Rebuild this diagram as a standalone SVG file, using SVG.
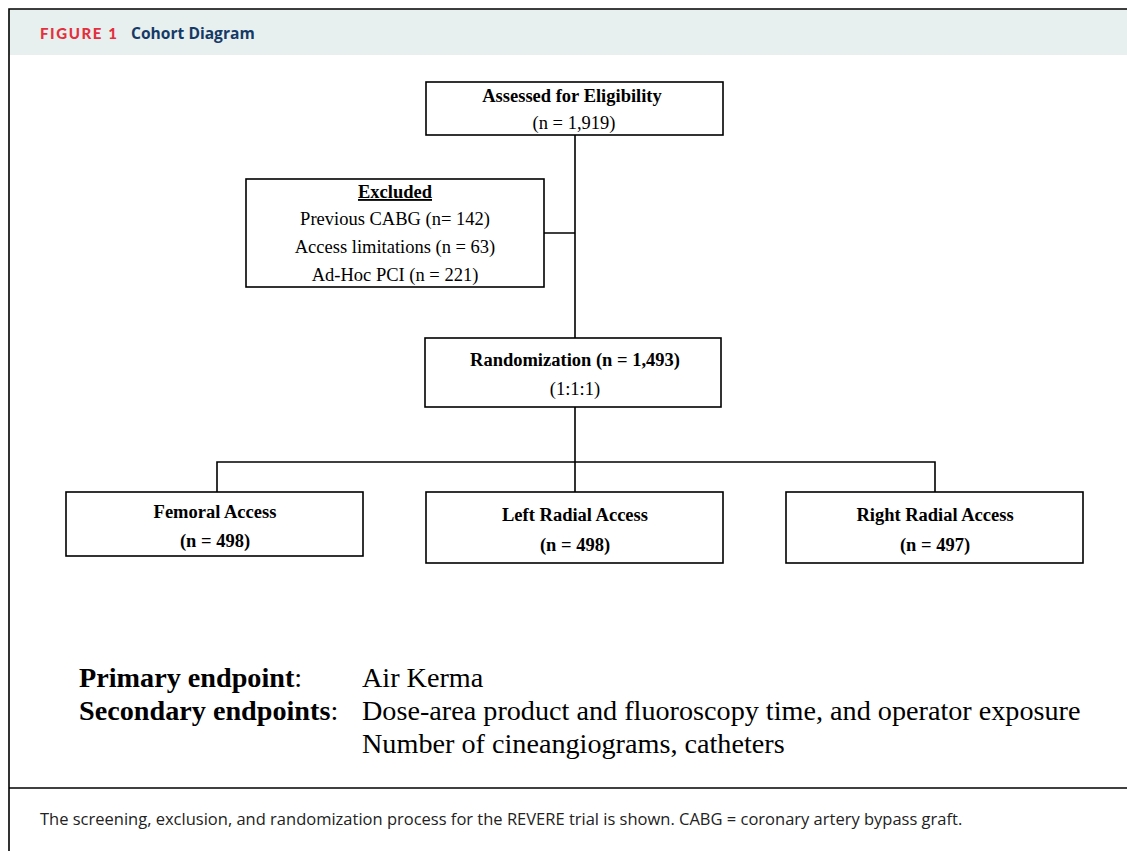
<svg xmlns="http://www.w3.org/2000/svg" width="1127" height="851" viewBox="0 0 1127 851">
<style>
.box{fill:#fff;stroke:#000;stroke-width:1.6}
.ln{stroke:#000;stroke-width:1.6;fill:none}
.t{font-family:"Liberation Serif","Times New Roman",serif;font-size:18.5px;fill:#000;text-anchor:middle}
.b{font-weight:bold}
.big{font-family:"Liberation Serif","Times New Roman",serif;font-size:28.2px;fill:#000}
</style>
<rect x="0" y="0" width="1127" height="851" fill="#fff"/>
<rect x="9" y="9" width="1118" height="46" fill="#e8f0ef"/>
<path d="M9 851V9H1127" class="ln" stroke-width="2"/>
<line x1="9" y1="788" x2="1127" y2="788" class="ln" stroke-width="2"/>
<text x="40" y="39" font-family="Lato,'Open Sans',sans-serif" font-weight="900" font-size="15" fill="#e3303e" letter-spacing="1.6">FIGURE 1</text>
<text x="131" y="39" font-family="'Open Sans',Lato,sans-serif" font-weight="bold" font-size="15.6" fill="#163a66">Cohort Diagram</text>
<g id="connectors">
<path class="ln" d="M575 135V338M544 233H575M575 407V492M217 492V462H935V492"/>
</g>
<g id="assessed">
<rect class="box" x="426" y="82" width="297" height="53"/>
<text class="t b" x="572" y="102" font-size="18">Assessed for Eligibility</text>
<text class="t" x="574" y="129" font-size="18">(n = 1,919)</text>
</g>
<g id="excluded">
<rect class="box" x="246" y="179" width="298" height="108"/>
<text class="t b" x="395" y="198" text-decoration="underline">Excluded</text>
<text class="t" x="395" y="225">Previous CABG (n= 142)</text>
<text class="t" x="395" y="253">Access limitations (n = 63)</text>
<text class="t" x="395" y="281">Ad-Hoc PCI (n = 221)</text>
</g>
<g id="randomization">
<rect class="box" x="425" y="338" width="296" height="69"/>
<text class="t b" x="575" y="366">Randomization (n = 1,493)</text>
<text class="t" x="575" y="395">(1:1:1)</text>
</g>
<g id="femoral">
<rect class="box" x="66" y="492" width="297" height="64"/>
<text class="t b" x="215" y="518">Femoral Access</text>
<text class="t b" x="215" y="547">(n = 498)</text>
</g>
<g id="left">
<rect class="box" x="426" y="492" width="297" height="71"/>
<text class="t b" x="575" y="521">Left Radial Access</text>
<text class="t b" x="575" y="551">(n = 498)</text>
</g>
<g id="right">
<rect class="box" x="786" y="492" width="297" height="71"/>
<text class="t b" x="935" y="521">Right Radial Access</text>
<text class="t b" x="935" y="551">(n = 497)</text>
</g>
<g id="endpoints">
<text class="big" x="79" y="687"><tspan font-weight="bold">Primary endpoint</tspan>:</text>
<text class="big" x="362" y="687">Air Kerma</text>
<text class="big" x="79" y="720"><tspan font-weight="bold">Secondary endpoints</tspan>:</text>
<text class="big" x="362" y="720">Dose-area product and fluoroscopy time, and operator exposure</text>
<text class="big" x="362" y="753">Number of cineangiograms, catheters</text>
</g>
<text x="40" y="825" font-family="'Open Sans','Noto Sans',sans-serif" font-size="16.5" fill="#222">The screening, exclusion, and randomization process for the REVERE trial is shown. CABG = coronary artery bypass graft.</text>
</svg>
